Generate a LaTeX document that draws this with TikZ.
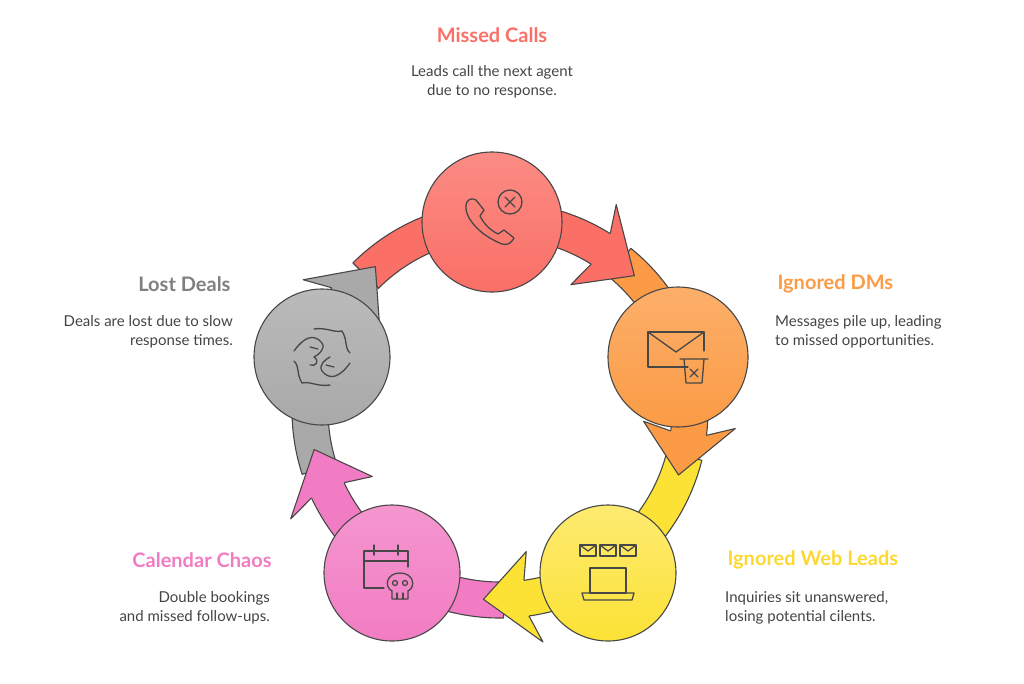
\documentclass[tikz,border=0pt]{standalone}
\usepackage{fontspec}
\setmainfont{Lato}
\usetikzlibrary{calc}
\definecolor{edge}{HTML}{474747}
\definecolor{cred}{HTML}{FA6F66}
\definecolor{cora}{HTML}{FB9B45}
\definecolor{cyel}{HTML}{FCE235}
\definecolor{cpink}{HTML}{F27CC3}
\definecolor{cgrey}{HTML}{A9A9A9}
\definecolor{txt}{HTML}{444444}
\begin{document}
\begin{tikzpicture}[x=1pt,y=-1pt,
  ol/.style={draw=edge,line width=1.1pt,line join=round},
  ic/.style={draw=edge,line width=1.3pt,line cap=round,line join=round},
  ttl/.style={font=\bfseries\fontsize{20}{22}\selectfont},
  dsc/.style={font=\fontsize{15}{19}\selectfont,text=txt,inner sep=0pt}]
\useasboundingbox (0,0) rectangle (1024,683);
\coordinate (C) at (500,410);
\newcommand\myband[3]{\fill[#1,ol] ($(C)+(-#2:208)$) arc[start angle=-#2,end angle=-#3-11,radius=208] -- ($(C)+(-#3-11:172)$) arc[start angle=-#3-11,end angle=-#2,radius=172] -- cycle;}
\newcommand\myhead[2]{%
\fill[#1] ($(C)+(-#2-13:208)$) -- ($(C)+(-#2-15.5:236)$) -- ($(C)+(-#2:190)$) -- ($(C)+(-#2-15.5:144)$) -- ($(C)+(-#2-13:172)$) -- cycle;
\draw[ol] ($(C)+(-#2-13:208)$) -- ($(C)+(-#2-15.5:236)$) -- ($(C)+(-#2:190)$) -- ($(C)+(-#2-15.5:144)$) -- ($(C)+(-#2-13:172)$);}
\myband{cred}{135}{45}
\myband{cora}{51}{-20}
\myband{cyel}{-14}{-95}
\myband{cpink}{-89}{-168}
\myband{cgrey}{-162}{-229}
\myhead{cred}{45}
\myhead{cora}{-20}
\myhead{cyel}{-95}
\myhead{cpink}{-168}
\myhead{cgrey}{-229}
\node[circle,minimum size=140pt,top color=cred!80,bottom color=cred,ol] (mc) at (492,222) {};
\node[circle,minimum size=140pt,top color=cora!80,bottom color=cora,ol] (dm) at (678,357) {};
\node[circle,minimum size=136pt,top color=cyel!70,bottom color=cyel,ol] (wl) at (608,573) {};
\node[circle,minimum size=136pt,top color=cpink!80,bottom color=cpink,ol] (cc) at (392,573) {};
\node[circle,minimum size=136pt,top color=cgrey!80,bottom color=cgrey,ol] (ld) at (322,357) {};
% phone icon
\begin{scope}[shift={(mc.center)}]
\draw[ic] (-25,-20) .. controls (-30,-12) and (-20,10) .. (10,22) .. controls (16,24) and (20,20) .. (22,16) -- (12,8) -- (6,12) .. controls (-2,8) and (-8,2) .. (-12,-6) -- (-8,-12) -- (-16,-22) .. controls (-20,-24) and (-23,-23) .. (-25,-20);
\draw[ic] (18,-20) circle (12);
\draw[ic] (13,-25) -- (23,-15) (23,-25) -- (13,-15);
\end{scope}
% envelope + trash
\begin{scope}[shift={(dm.center)}]
\draw[ic] (10,10) -- (-30,10) -- (-30,-25) -- (26,-25) -- (26,-6);
\draw[ic] (-30,-25) -- (-2,-5) -- (26,-25);
\draw[ic] (2,2) -- (30,2) (6,2) -- (8,26) -- (24,26) -- (26,2);
\draw[ic] (12,12) -- (20,20) (20,12) -- (12,20);
\end{scope}
% laptop + envelopes
\begin{scope}[shift={(wl.center)}]
\foreach \x in {-20,0,20}{\draw[ic] (\x-8,-28) rectangle (\x+8,-17); \draw[ic] (\x-8,-28) -- (\x,-22) -- (\x+8,-28);}
\draw[ic] (-18,-5) rectangle (18,20);
\draw[ic] (-26,20) -- (26,20) -- (24,27) -- (-24,27) -- cycle;
\end{scope}
% calendar + skull
\begin{scope}[shift={(cc.center)}]
\draw[ic] (-8,15) -- (-28,15) -- (-28,-22) -- (16,-22) -- (16,-6);
\draw[ic] (-28,-12) -- (16,-12) (-18,-28) -- (-18,-18) (6,-28) -- (6,-18);
\draw[ic] (8,0) .. controls (-6,0) and (-8,14) .. (0,18) -- (0,26) -- (16,26) -- (16,18) .. controls (24,14) and (22,0) .. (8,0);
\draw[ic] (3,10) circle (2.5) (13,10) circle (2.5);
\draw[ic] (5,20) -- (5,26) (11,20) -- (11,26);
\end{scope}
% hands (scribble)
\begin{scope}[shift={(ld.center)}]
\draw[ic] (-28,-6) .. controls (-18,-20) and (-8,-24) .. (0,-14) .. controls (4,-8) and (-4,-2) .. (-8,0) .. controls (-2,4) and (-6,10) .. (-12,8);
\draw[ic] (-8,-28) .. controls (4,-30) and (12,-24) .. (20,-26) .. controls (26,-16) and (22,-10) .. (28,-4);
\draw[ic] (28,6) .. controls (18,20) and (8,24) .. (0,14) .. controls (-4,8) and (4,2) .. (8,0);
\draw[ic] (8,28) .. controls (-4,30) and (-12,24) .. (-20,26) .. controls (-26,16) and (-22,10) .. (-28,4);
\draw[ic] (-12,-10) -- (-4,-8) (12,10) -- (4,8);
\end{scope}
% texts
\node[ttl,text=cred] (t1) at (492,35) {Missed Calls};
\node[dsc,align=center] (d1) at (492,82) {Leads call the next agent\\due to no response.};
\node[ttl,text=cora,anchor=west] (t2) at (774,284) {Ignored DMs};
\node[dsc,align=left,anchor=west] (d2) at (775,332) {Messages pile up, leading\\to missed opportunities.};
\node[ttl,text=cyel!90!orange,anchor=west] (t3) at (724,560) {Ignored Web Leads};
\node[dsc,align=left,anchor=west] (d3) at (725,608) {Inquiries sit unanswered,\\losing potential cilents.};
\node[ttl,text=cpink,anchor=east] (t4) at (275,560) {Calendar Chaos};
\node[dsc,align=right,anchor=east] (d4) at (270,608) {Double bookings\\and missed follow-ups.};
\node[ttl,text=gray,anchor=east] (t5) at (234,284) {Lost Deals};
\node[dsc,align=right,anchor=east] (d5) at (233,332) {Deals are lost due to slow\\response times.};
\end{tikzpicture}
\end{document}
